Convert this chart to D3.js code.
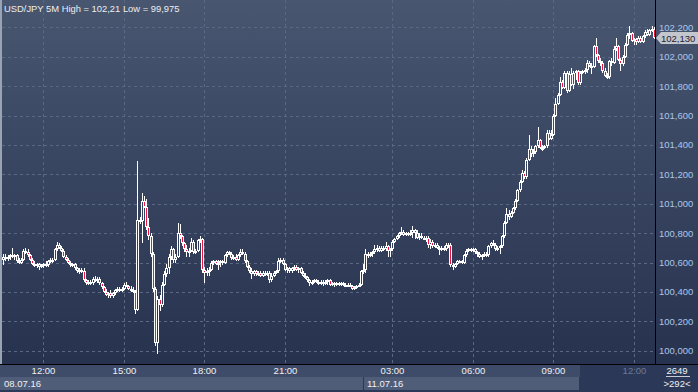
<!DOCTYPE html>
<html>
<head>
<meta charset="utf-8">
<script src="https://cdn.jsdelivr.net/npm/d3@7"></script>
<style>
  body { margin: 0; background: #2b3756; }
  svg { display: block; }
</style>
</head>
<body>
<div id="chart"></div>
<script>
// USD/JPY 5M candles, 08.07.16 10:30 .. 11.07.16 ~12:40 (292 bars)
var opens = [
  100.62,100.64,100.63,100.64,100.65,100.64,100.65,100.61,100.60,100.62,
  100.68,100.67,100.65,100.62,100.59,100.58,100.59,100.57,100.58,100.59,
  100.58,100.61,100.62,100.62,100.69,100.72,100.70,100.68,100.64,100.62,
  100.60,100.58,100.59,100.56,100.54,100.55,100.54,100.48,100.46,100.47,
  100.46,100.49,100.48,100.49,100.46,100.43,100.40,100.38,100.39,100.37,
  100.39,100.41,100.42,100.41,100.42,100.45,100.44,100.42,100.41,100.40,
  100.28,100.89,100.88,101.02,100.98,100.84,100.78,100.66,100.42,100.05,
  100.35,100.31,100.45,100.52,100.56,100.64,100.69,100.62,100.64,100.80,
  100.78,100.73,100.69,100.67,100.68,100.74,100.67,100.68,100.75,100.76,
  100.55,100.53,100.54,100.55,100.60,100.61,100.59,100.60,100.61,100.60,
  100.65,100.67,100.66,100.63,100.64,100.62,100.65,100.67,100.66,100.61,
  100.57,100.54,100.52,100.54,100.52,100.53,100.51,100.53,100.52,100.53,
  100.48,100.51,100.53,100.54,100.61,100.62,100.59,100.55,100.56,100.54,
  100.56,100.57,100.55,100.56,100.53,100.51,100.50,100.48,100.46,100.47,
  100.48,100.47,100.46,100.47,100.46,100.47,100.48,100.45,100.46,100.45,
  100.46,100.45,100.46,100.45,100.44,100.45,100.44,100.42,100.43,100.44,
  100.45,100.54,100.55,100.66,100.65,100.66,100.67,100.69,100.70,100.68,
  100.70,100.69,100.71,100.68,100.69,100.74,100.76,100.78,100.80,100.81,
  100.79,100.80,100.79,100.80,100.82,100.80,100.77,100.78,100.77,100.76,
  100.77,100.72,100.74,100.71,100.72,100.70,100.69,100.70,100.69,100.72,
  100.72,100.58,100.57,100.59,100.61,100.61,100.60,100.65,100.68,100.69,
  100.68,100.69,100.67,100.66,100.64,100.65,100.66,100.65,100.71,100.73,
  100.72,100.69,100.70,100.71,100.78,100.87,100.93,100.91,100.94,100.97,
  101.02,101.09,101.15,101.21,101.18,101.30,101.37,101.34,101.35,101.39,
  101.43,101.38,101.38,101.39,101.48,101.44,101.47,101.60,101.68,101.74,
  101.83,101.79,101.89,101.77,101.88,101.81,101.89,101.90,101.82,101.89,
  101.90,101.91,101.96,101.94,101.93,102.07,102.01,101.97,101.96,101.90,
  101.87,101.86,101.97,101.96,102.05,102.07,101.98,101.95,102.00,102.08,
  102.15,102.16,102.11,102.12,102.10,102.13,102.10,102.14,102.17,102.15,
  102.18,102.19
];
var highs = [
  100.66,100.66,100.65,100.66,100.70,100.66,100.66,100.63,100.63,100.69,
  100.70,100.69,100.66,100.63,100.61,100.60,100.60,100.59,100.60,100.61,
  100.62,100.63,100.63,100.70,100.74,100.73,100.71,100.69,100.65,100.63,
  100.61,100.60,100.60,100.57,100.56,100.56,100.56,100.49,100.48,100.48,
  100.50,100.51,100.50,100.50,100.47,100.44,100.42,100.40,100.41,100.40,
  100.42,100.43,100.43,100.43,100.46,100.47,100.45,100.44,100.43,100.41,
  101.29,100.91,101.07,101.05,101.03,100.90,100.80,100.67,100.43,100.37,
  100.38,100.47,100.54,100.59,100.66,100.71,100.70,100.66,100.87,100.86,
  100.79,100.74,100.72,100.70,100.77,100.75,100.69,100.76,100.78,100.77,
  100.57,100.56,100.57,100.61,100.62,100.62,100.62,100.62,100.62,100.66,
  100.68,100.68,100.67,100.65,100.66,100.66,100.69,100.69,100.67,100.62,
  100.58,100.56,100.55,100.55,100.54,100.54,100.54,100.54,100.54,100.54,
  100.53,100.54,100.55,100.63,100.63,100.63,100.60,100.57,100.57,100.57,
  100.58,100.58,100.57,100.57,100.54,100.53,100.51,100.49,100.48,100.49,
  100.49,100.48,100.48,100.48,100.48,100.49,100.49,100.47,100.47,100.47,
  100.47,100.47,100.47,100.46,100.46,100.46,100.45,100.44,100.45,100.46,
  100.55,100.59,100.69,100.67,100.67,100.68,100.72,100.72,100.71,100.71,
  100.71,100.74,100.72,100.70,100.75,100.77,100.79,100.81,100.84,100.82,
  100.81,100.81,100.82,100.85,100.83,100.82,100.80,100.80,100.78,100.78,
  100.78,100.76,100.75,100.73,100.73,100.71,100.71,100.71,100.73,100.73,
  100.73,100.60,100.60,100.62,100.62,100.62,100.66,100.69,100.70,100.70,
  100.70,100.70,100.68,100.67,100.66,100.67,100.67,100.72,100.74,100.75,
  100.73,100.71,100.72,100.79,100.88,100.97,100.96,100.95,100.98,101.03,
  101.10,101.16,101.23,101.22,101.31,101.47,101.39,101.37,101.40,101.52,
  101.44,101.40,101.40,101.50,101.50,101.50,101.61,101.72,101.75,101.86,
  101.84,101.90,101.90,101.90,101.92,101.90,101.91,101.91,101.90,101.91,
  101.92,101.98,101.97,101.96,102.08,102.13,102.02,101.99,101.97,101.92,
  101.89,101.98,101.99,102.07,102.13,102.08,101.99,102.01,102.09,102.16,
  102.21,102.17,102.13,102.13,102.14,102.14,102.15,102.18,102.19,102.19,
  102.21,102.20
];
var lows = [
  100.58,100.61,100.61,100.62,100.63,100.62,100.60,100.59,100.59,100.61,
  100.66,100.64,100.61,100.58,100.57,100.56,100.55,100.56,100.56,100.57,
  100.57,100.60,100.60,100.61,100.68,100.69,100.67,100.63,100.61,100.59,
  100.57,100.57,100.55,100.53,100.52,100.53,100.47,100.45,100.45,100.45,
  100.45,100.47,100.46,100.45,100.42,100.39,100.37,100.36,100.36,100.36,
  100.38,100.40,100.40,100.40,100.41,100.43,100.41,100.40,100.39,100.25,
  100.27,100.86,100.73,100.97,100.82,100.75,100.64,100.40,100.03,99.975,
  100.27,100.30,100.44,100.50,100.52,100.62,100.60,100.60,100.63,100.76,
  100.71,100.67,100.64,100.64,100.67,100.66,100.66,100.67,100.73,100.53,
  100.46,100.51,100.51,100.54,100.58,100.58,100.55,100.57,100.58,100.59,
  100.64,100.65,100.62,100.62,100.61,100.61,100.64,100.65,100.60,100.56,
  100.53,100.49,100.51,100.51,100.51,100.50,100.50,100.51,100.51,100.46,
  100.47,100.50,100.52,100.53,100.60,100.58,100.54,100.53,100.53,100.53,
  100.54,100.54,100.53,100.52,100.50,100.49,100.47,100.44,100.45,100.46,
  100.46,100.45,100.45,100.44,100.45,100.45,100.44,100.44,100.43,100.44,
  100.44,100.44,100.44,100.43,100.43,100.43,100.41,100.41,100.42,100.43,
  100.44,100.52,100.53,100.63,100.64,100.64,100.66,100.67,100.67,100.67,
  100.68,100.68,100.64,100.64,100.68,100.73,100.75,100.77,100.79,100.78,
  100.78,100.78,100.78,100.77,100.76,100.76,100.75,100.76,100.75,100.74,
  100.70,100.69,100.70,100.70,100.69,100.65,100.68,100.68,100.68,100.70,
  100.57,100.55,100.56,100.58,100.60,100.59,100.59,100.64,100.67,100.67,
  100.67,100.66,100.64,100.63,100.62,100.64,100.64,100.64,100.70,100.71,
  100.68,100.68,100.66,100.70,100.77,100.86,100.89,100.90,100.93,100.96,
  101.01,101.08,101.14,101.17,101.17,101.29,101.32,101.32,101.34,101.38,
  101.37,101.36,101.37,101.38,101.43,101.43,101.46,101.59,101.67,101.73,
  101.78,101.78,101.75,101.76,101.80,101.78,101.84,101.81,101.81,101.88,
  101.88,101.89,101.93,101.88,101.92,102.00,101.96,101.94,101.89,101.86,
  101.85,101.85,101.94,101.95,102.04,101.97,101.90,101.94,101.99,102.07,
  102.12,102.10,102.08,102.08,102.09,102.09,102.09,102.13,102.14,102.14,
  102.17,102.12
];
var closes = [
  100.64,100.63,100.64,100.65,100.64,100.65,100.61,100.60,100.62,100.68,
  100.67,100.65,100.62,100.59,100.58,100.59,100.57,100.58,100.59,100.58,
  100.61,100.62,100.62,100.69,100.72,100.70,100.68,100.64,100.62,100.60,
  100.58,100.59,100.56,100.54,100.55,100.54,100.48,100.46,100.47,100.46,
  100.49,100.48,100.49,100.46,100.43,100.40,100.38,100.39,100.37,100.39,
  100.41,100.42,100.41,100.42,100.45,100.44,100.42,100.41,100.40,100.28,
  100.89,100.88,101.02,100.98,100.84,100.78,100.66,100.42,100.05,100.35,
  100.31,100.45,100.52,100.56,100.64,100.69,100.62,100.64,100.80,100.78,
  100.73,100.69,100.67,100.68,100.74,100.67,100.68,100.75,100.76,100.55,
  100.53,100.54,100.55,100.60,100.61,100.59,100.60,100.61,100.60,100.65,
  100.67,100.66,100.63,100.64,100.62,100.65,100.67,100.66,100.61,100.57,
  100.54,100.52,100.54,100.52,100.53,100.51,100.53,100.52,100.53,100.48,
  100.51,100.53,100.54,100.61,100.62,100.59,100.55,100.56,100.54,100.56,
  100.57,100.55,100.56,100.53,100.51,100.50,100.48,100.46,100.47,100.48,
  100.47,100.46,100.47,100.46,100.47,100.48,100.45,100.46,100.45,100.46,
  100.45,100.46,100.45,100.44,100.45,100.44,100.42,100.43,100.44,100.45,
  100.54,100.55,100.66,100.65,100.66,100.67,100.69,100.70,100.68,100.70,
  100.69,100.71,100.68,100.69,100.74,100.76,100.78,100.80,100.81,100.79,
  100.80,100.79,100.80,100.82,100.80,100.77,100.78,100.77,100.76,100.77,
  100.72,100.74,100.71,100.72,100.70,100.69,100.70,100.69,100.72,100.72,
  100.58,100.57,100.59,100.61,100.61,100.60,100.65,100.68,100.69,100.68,
  100.69,100.67,100.66,100.64,100.65,100.66,100.65,100.71,100.73,100.72,
  100.69,100.70,100.71,100.78,100.87,100.93,100.91,100.94,100.97,101.02,
  101.09,101.15,101.21,101.18,101.30,101.37,101.34,101.35,101.39,101.43,
  101.38,101.38,101.39,101.48,101.44,101.47,101.60,101.68,101.74,101.83,
  101.79,101.89,101.77,101.88,101.81,101.89,101.90,101.82,101.89,101.90,
  101.91,101.96,101.94,101.93,102.07,102.01,101.97,101.96,101.90,101.87,
  101.86,101.97,101.96,102.05,102.07,101.98,101.95,102.00,102.08,102.15,
  102.16,102.11,102.12,102.10,102.13,102.10,102.14,102.17,102.15,102.18,
  102.19,102.13
];

var priceTicks = [100.0, 100.2, 100.4, 100.6, 100.8, 101.0, 101.2, 101.4, 101.6, 101.8, 102.0, 102.2];
var tickBars = [18, 54, 90, 126, 174, 210, 246, 282];
var tickLabels = ["12:00", "15:00", "18:00", "21:00", "03:00", "06:00", "09:00", "12:00"];
var dateBars = [0, 162];
var dateLabels = ["08.07.16", "11.07.16"];
var lastPrice = 102.13;
var title = "USD/JPY 5M High = 102,21 Low = 99,975";
var barsTotal = "2649";
var barsShown = ">292<";

var width = 698, height = 392;
var plotL = 2, plotR = 655, plotB = 364;
var font = "'Liberation Sans', Arial, sans-serif";

var svg = d3.select("#chart").append("svg")
    .attr("width", width)
    .attr("height", height)
    .attr("shape-rendering", "crispEdges");

var defs = svg.append("defs");
var grad = defs.append("linearGradient")
    .attr("id", "bg")
    .attr("gradientUnits", "userSpaceOnUse")
    .attr("x1", 0).attr("y1", 0).attr("x2", 0).attr("y2", plotB);
grad.append("stop").attr("offset", 0).attr("stop-color", "#485670");
grad.append("stop").attr("offset", 1).attr("stop-color", "#27324f");

var x = d3.scaleBand()
    .domain(d3.range(closes.length))
    .range([3, 656]);
var y = d3.scaleLinear()
    .domain([100, 102])
    .range([350.7, 56.7]);

function cx(i) { return Math.round(x(i) + x.bandwidth() / 2) - 1; }
function fmt(v) { return d3.format(".3f")(v).replace(".", ","); }

// background
svg.append("rect")
    .attr("x", 0).attr("y", 0)
    .attr("width", width).attr("height", plotB)
    .attr("fill", "url(#bg)");
svg.append("rect")
    .attr("x", 0).attr("y", 0)
    .attr("width", 2).attr("height", plotB)
    .attr("fill", "#9aa3b3");

// grid
svg.append("g").selectAll("line")
    .data(priceTicks)
    .enter()
    .append("line")
    .attr("x1", plotL).attr("x2", plotR)
    .attr("y1", function (d) { return Math.round(y(d)) + 0.5; })
    .attr("y2", function (d) { return Math.round(y(d)) + 0.5; })
    .attr("stroke", "#5a6884")
    .attr("stroke-dasharray", "3,3");

svg.append("g").selectAll("line")
    .data(tickBars)
    .enter()
    .append("line")
    .attr("x1", function (d) { return cx(d) + 0.5; })
    .attr("x2", function (d) { return cx(d) + 0.5; })
    .attr("y1", 0).attr("y2", plotB)
    .attr("stroke", "#5a6884")
    .attr("stroke-dasharray", "3,3");

// candles
var candles = svg.append("g").selectAll("g")
    .data(closes)
    .enter()
    .append("g");

candles.append("rect")
    .attr("x", function (d, i) { return cx(i); })
    .attr("width", 1)
    .attr("y", function (d, i) { return Math.round(y(highs[i])); })
    .attr("height", function (d, i) { return Math.max(1, Math.round(y(lows[i])) - Math.round(y(highs[i]))); })
    .attr("fill", "#ffffff");

candles.append("rect")
    .attr("x", function (d, i) { return cx(i) - 1; })
    .attr("width", 3)
    .attr("y", function (d, i) { return Math.round(y(Math.max(opens[i], d))); })
    .attr("height", function (d, i) {
        return Math.max(2, Math.round(y(Math.min(opens[i], d))) - Math.round(y(Math.max(opens[i], d))));
    })
    .attr("fill", "#ffffff");

candles.append("rect")
    .attr("x", function (d, i) { return cx(i); })
    .attr("width", 1)
    .attr("y", function (d, i) { return Math.round(y(Math.max(opens[i], d))) + 1; })
    .attr("height", function (d, i) {
        var h = Math.round(y(Math.min(opens[i], d))) - Math.round(y(Math.max(opens[i], d)));
        return Math.max(0, h - 2);
    })
    .attr("fill", function (d, i) { return d < opens[i] ? "#e8173f" : "url(#bg)"; });

// right axis panel
svg.append("rect")
    .attr("x", plotR).attr("y", 0)
    .attr("width", 1).attr("height", height)
    .attr("fill", "#000000");

svg.append("g").selectAll("text")
    .data(priceTicks)
    .enter()
    .append("text")
    .attr("x", 659)
    .attr("y", function (d) { return y(d) + 3.5; })
    .style("fill", "#aac6ec")
    .style("font-size", "9.5px")
    .style("font-family", font)
    .text(function (d) { return fmt(d); });

// last price marker
var ly = Math.round(y(lastPrice));
svg.append("path")
    .attr("d", "M656," + ly + " L661," + (ly - 6) + " L698," + (ly - 6) + " L698," + (ly + 6) + " L661," + (ly + 6) + " Z")
    .attr("fill", "#c3c6cc")
    .attr("shape-rendering", "auto");
svg.append("text")
    .attr("x", 661)
    .attr("y", ly + 3.5)
    .style("fill", "#1e2433")
    .style("font-size", "9.5px")
    .style("font-family", font)
    .text(fmt(lastPrice));

// title
svg.append("text")
    .attr("x", 4)
    .attr("y", 12)
    .style("fill", "#eeeeee")
    .style("font-size", "9.4px")
    .style("font-family", font)
    .text(title);

// bottom time axis
svg.append("rect")
    .attr("x", 0).attr("y", plotB)
    .attr("width", width).attr("height", height - plotB)
    .attr("fill", "#2c3858");
svg.append("rect")
    .attr("x", 0).attr("y", plotB)
    .attr("width", width).attr("height", 1)
    .attr("fill", "#000000");
svg.append("rect")
    .attr("x", 0).attr("y", plotB + 1)
    .attr("width", cx(246) + 27).attr("height", 12)
    .attr("fill", "#3f4c69");

var dateEnds = [cx(162) - 1, cx(246) + 27];
svg.append("g").selectAll("rect")
    .data(dateBars)
    .enter()
    .append("rect")
    .attr("x", function (d, i) { return i === 0 ? 0 : cx(d) - 1; })
    .attr("y", plotB + 13)
    .attr("width", function (d, i) { return dateEnds[i] - (i === 0 ? 0 : cx(d) - 1) - 1; })
    .attr("height", 13)
    .attr("fill", "#4f5d79");

svg.append("g").selectAll("text")
    .data(dateBars)
    .enter()
    .append("text")
    .attr("x", function (d, i) { return i === 0 ? 4 : cx(d) + 2; })
    .attr("y", plotB + 23)
    .style("fill", "#f0f0f0")
    .style("font-size", "9.5px")
    .style("font-family", font)
    .text(function (d, i) { return dateLabels[i]; });

svg.append("g").selectAll("text")
    .data(tickBars)
    .enter()
    .append("text")
    .attr("x", function (d) { return cx(d) + 0.5; })
    .attr("y", plotB + 10)
    .attr("text-anchor", "middle")
    .style("fill", function (d, i) { return i === tickBars.length - 1 ? "#6e7a92" : "#f0f0f0"; })
    .style("font-size", "9.5px")
    .style("font-family", font)
    .text(function (d, i) { return tickLabels[i]; });

// bar counter
svg.append("text")
    .attr("x", 677).attr("y", plotB + 10)
    .attr("text-anchor", "middle")
    .style("fill", "#f0f0f0")
    .style("font-size", "9.5px")
    .style("font-family", font)
    .text(barsTotal);
svg.append("rect")
    .attr("x", 666).attr("y", plotB + 12)
    .attr("width", 24).attr("height", 1)
    .attr("fill", "#c8ccd4");
svg.append("text")
    .attr("x", 677).attr("y", plotB + 23)
    .attr("text-anchor", "middle")
    .style("fill", "#f0f0f0")
    .style("font-size", "9.5px")
    .style("font-family", font)
    .text(barsShown);
</script>
</body>
</html>
